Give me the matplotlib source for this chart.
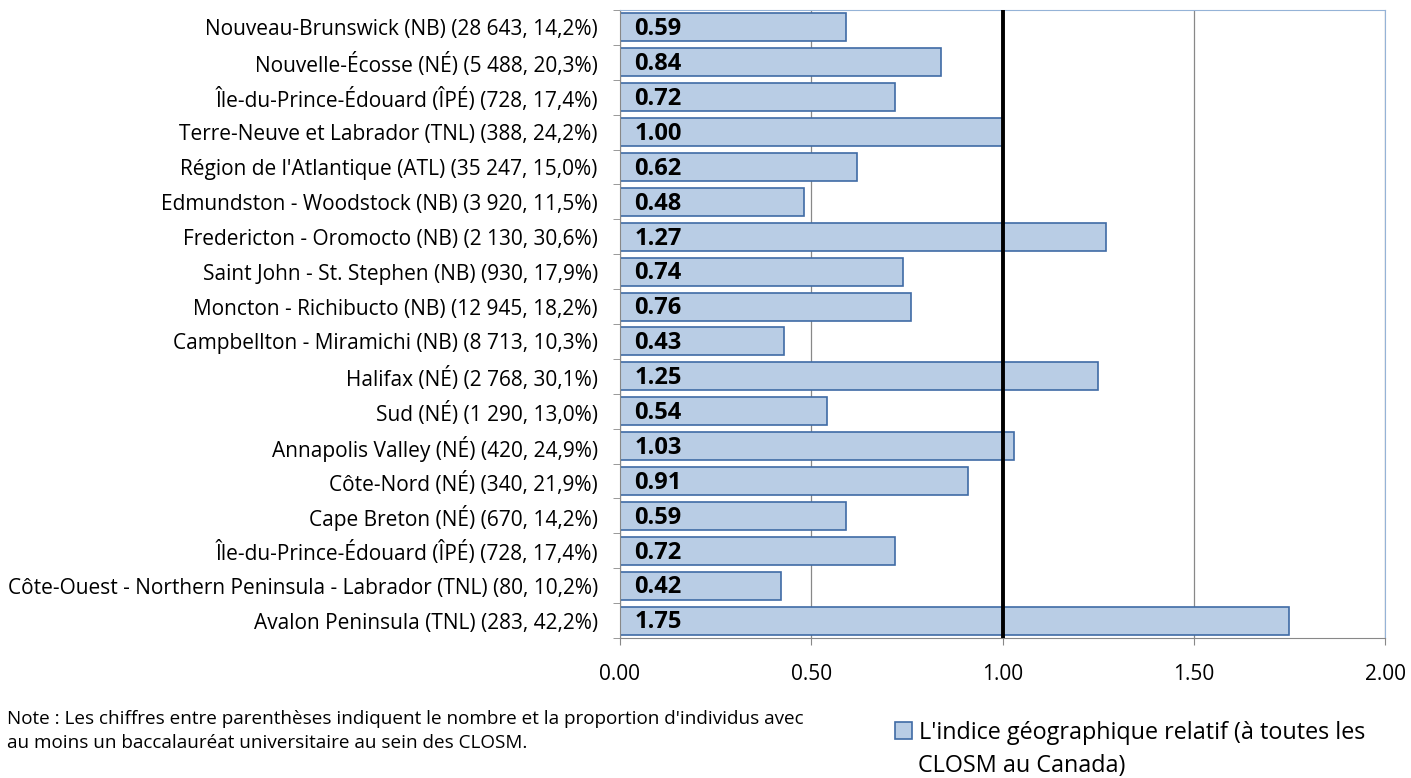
import numpy as np
import matplotlib.pyplot as plt

regions = [
    "Nouveau-Brunswick (NB) (28 643, 14,2%)",
    "Nouvelle-Écosse (NÉ) (5 488, 20,3%)",
    "Île-du-Prince-Édouard (ÎPÉ) (728, 17,4%)",
    "Terre-Neuve et Labrador (TNL) (388, 24,2%)",
    "Région de l'Atlantique (ATL) (35 247, 15,0%)",
    "Edmundston - Woodstock (NB) (3 920, 11,5%)",
    "Fredericton - Oromocto (NB) (2 130, 30,6%)",
    "Saint John - St. Stephen (NB) (930, 17,9%)",
    "Moncton - Richibucto (NB) (12 945, 18,2%)",
    "Campbellton - Miramichi (NB) (8 713, 10,3%)",
    "Halifax (NÉ) (2 768, 30,1%)",
    "Sud (NÉ) (1 290, 13,0%)",
    "Annapolis Valley (NÉ) (420, 24,9%)",
    "Côte-Nord (NÉ) (340, 21,9%)",
    "Cape Breton (NÉ) (670, 14,2%)",
    "Île-du-Prince-Édouard (ÎPÉ) (728, 17,4%)",
    "Côte-Ouest - Northern Peninsula - Labrador (TNL) (80, 10,2%)",
    "Avalon Peninsula (TNL) (283, 42,2%)",
]
indice = [0.59, 0.84, 0.72, 1.00, 0.62, 0.48, 1.27, 0.74, 0.76, 0.43,
          1.25, 0.54, 1.03, 0.91, 0.59, 0.72, 0.42, 1.75]
reference = 1.0
xticks = [0.0, 0.5, 1.0, 1.5, 2.0]

plt.rcParams['font.family'] = ['Open Sans', 'DejaVu Sans']

fig = plt.figure(figsize=(14.11, 7.78), dpi=100)
ax = fig.add_axes([620 / 1411, 1 - 638 / 778, 765 / 1411, 628 / 778])

y = np.arange(len(regions))
ax.barh(y, indice, height=0.8, color="#B9CDE5", edgecolor="#3F6BA5", linewidth=1.2,
        label="L'indice géographique relatif (à toutes les", zorder=2)
for yi, v in zip(y, indice):
    ax.text(0.038, yi + 0.05, f"{v:.2f}", va="center", ha="left", fontsize=17,
            fontweight="bold", color="black", zorder=4)

ax.axvline(reference, color="black", linewidth=2.8, zorder=3)

ax.set_xlim(0, 2.0)
ax.set_ylim(len(regions) - 0.5, -0.5)
ax.set_xticks(xticks)
ax.set_xticklabels([f"{t:.2f}" for t in xticks], fontsize=15)
ax.set_yticks(y)
ax.set_yticklabels(regions, fontsize=15)
ax.tick_params(axis="y", length=0, pad=16)
ax.set_yticks(np.arange(-0.5, len(regions), 1), minor=True)
ax.tick_params(axis="y", which="minor", length=5, color="#888888")
ax.tick_params(axis="x", length=5, color="#888888", pad=14)
ax.grid(axis="x", color="#888888", linewidth=0.9, zorder=0)
ax.set_axisbelow(True)

for side in ["top", "right"]:
    ax.spines[side].set_color("#95B3D7")
for side in ["left", "bottom"]:
    ax.spines[side].set_color("#888888")

fig.text(7 / 1411, 1 - 731 / 778, "Note : Les chiffres entre parenthèses indiquent le nombre et la proportion d'individus avec\n"
         "au moins un baccalauréat universitaire au sein des CLOSM.",
         fontsize=13.6, va="center", ha="left", linespacing=1.5)

fig.legend(loc="center left", bbox_to_anchor=(895 / 1411, 1 - 733 / 778), frameon=False,
           fontsize=16.8, handlelength=0.75, handleheight=0.75, handletextpad=0.3,
           borderaxespad=0, borderpad=0)
fig.text(918 / 1411, 1 - 766 / 778, "CLOSM au Canada)", fontsize=16.8, va="center", ha="left")

fig.savefig("out.png", dpi=100)
